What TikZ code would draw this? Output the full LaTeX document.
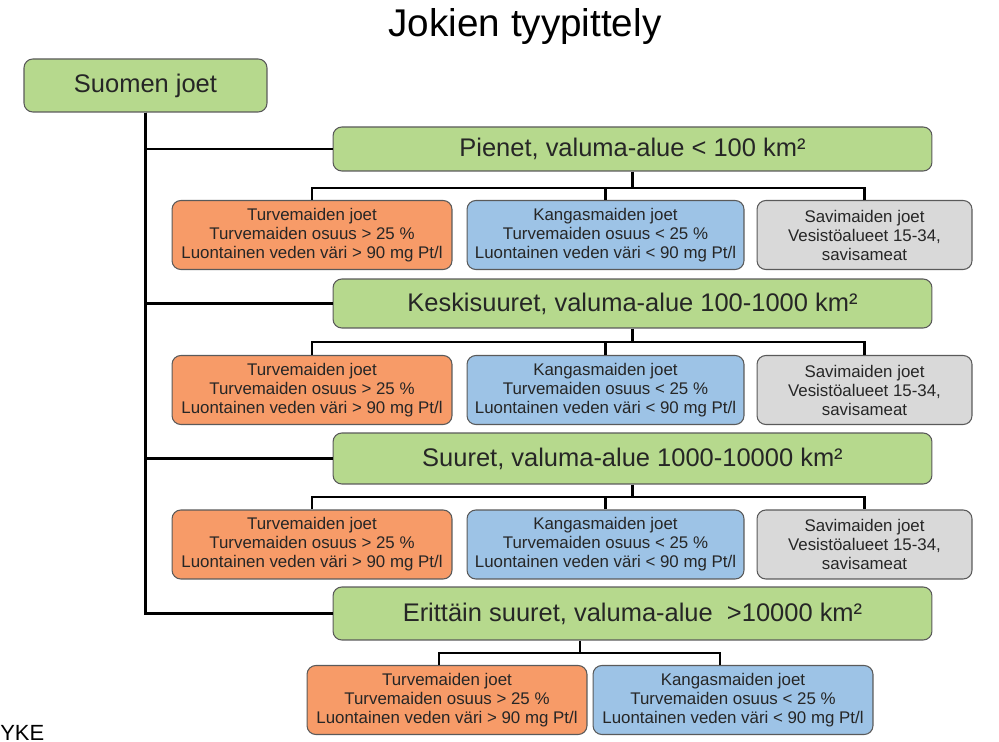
\documentclass[tikz,border=0pt]{standalone}
\usepackage{fontspec}
\setmainfont{Liberation Sans}
\usepackage{xcolor}
\usepackage{tikz}

\definecolor{vihrea}{HTML}{B6D98D}
\definecolor{oranssi}{HTML}{F79B68}
\definecolor{sininen}{HTML}{9DC3E6}
\definecolor{harmaa}{HTML}{D9D9D9}
\definecolor{reuna}{HTML}{5A5A5A}
\definecolor{teksti}{HTML}{262626}

\newcommand{\turveteksti}{Turvemaiden joet\\Turvemaiden osuus > 25 \%\\Luontainen veden väri > 90 mg Pt/l}
\newcommand{\kangasteksti}{Kangasmaiden joet\\Turvemaiden osuus < 25 \%\\Luontainen veden väri < 90 mg Pt/l}
\newcommand{\saviteksti}{Savimaiden joet\\Vesistöalueet 15-34,\\savisameat}

\tikzset{
    laatikko/.style={draw=reuna, line width=0.6pt, rounded corners=5pt, align=center, inner sep=1pt, text=teksti},
    paa/.style={laatikko, fill=vihrea, font=\fontsize{14.5}{17}\selectfont, minimum width=11.98cm},
    ala/.style={laatikko, minimum height=1.38cm, font=\fontsize{9.6}{10.8}\selectfont},
    turve/.style={ala, fill=oranssi, minimum width=5.6cm},
    kangas/.style={ala, fill=sininen, minimum width=5.54cm},
    savi/.style={ala, fill=harmaa, minimum width=4.3cm},
    runko/.style={line width=1.7pt},
    haara/.style={line width=1.4pt},
}

\begin{document}
\begin{tikzpicture}[x=0.02cm, y=-0.02cm]
    \useasboundingbox (0,0) rectangle (999,742);

    % Otsikko
    \node[anchor=base, font=\fontsize{22}{26}\selectfont] (otsikko) at (525,37) {Jokien tyypittely};

    % Juuri ja kokoluokat
    \node[laatikko, fill=vihrea, font=\fontsize{14.5}{17}\selectfont, minimum width=4.86cm, minimum height=1.06cm] (suomi) at (145.5,85.5) {Suomen joet};
    \node[paa, minimum height=0.88cm] (pienet) at (632.5,149) {Pienet, valuma-alue < 100 km²};
    \node[paa, minimum height=0.98cm] (keski) at (632.5,303.5) {Keskisuuret, valuma-alue 100-1000 km²};
    \node[paa, minimum height=1.02cm] (suuret) at (632.5,458.5) {Suuret, valuma-alue 1000-10000 km²};
    \node[paa, minimum height=1.06cm] (eritt) at (632.5,613.5) {Erittäin suuret, valuma-alue \ >10000 km²};

    % Rungon viivat
    \draw[runko] (suomi.south) |- (pienet.west);
    \draw[runko] (suomi.south) |- (keski.west);
    \draw[runko] (suomi.south) |- (suuret.west);
    \draw[runko] (suomi.south) |- (eritt.west);

    % Pienet
    \node[turve] (p1) at (312,235) {\turveteksti};
    \node[kangas] (p2) at (605.5,235) {\kangasteksti};
    \node[savi] (p3) at (864.5,235) {\saviteksti};
    \coordinate (pvayla) at (632.5,188);
    \draw[haara] (pienet.south) -- (pvayla);
    \draw[haara] (p1.north) |- (pvayla) -| (p3.north);
    \draw[haara] (p2.north) -- (p2.north |- pvayla);

    % Keskisuuret
    \node[turve] (k1) at (312,390) {\turveteksti};
    \node[kangas] (k2) at (605.5,390) {\kangasteksti};
    \node[savi] (k3) at (864.5,390) {\saviteksti};
    \coordinate (kvayla) at (632.5,342);
    \draw[haara] (keski.south) -- (kvayla);
    \draw[haara] (k1.north) |- (kvayla) -| (k3.north);
    \draw[haara] (k2.north) -- (k2.north |- kvayla);

    % Suuret
    \node[turve] (s1) at (312,544.5) {\turveteksti};
    \node[kangas] (s2) at (605.5,544.5) {\kangasteksti};
    \node[savi] (s3) at (864.5,544.5) {\saviteksti};
    \coordinate (svayla) at (632.5,497);
    \draw[haara] (suuret.south) -- (svayla);
    \draw[haara] (s1.north) |- (svayla) -| (s3.north);
    \draw[haara] (s2.north) -- (s2.north |- svayla);

    % Erittäin suuret
    \node[turve] (e1) at (447,700) {\turveteksti};
    \node[kangas, minimum width=5.6cm] (e2) at (733,700) {\kangasteksti};
    \coordinate (evayla) at (580,653);
    \draw[haara] (eritt.south -| evayla) -- (evayla);
    \draw[haara] ([xshift=-0.16cm]e1.north) |- (evayla) -| ([xshift=-0.26cm]e2.north);

    % Lähde
    \node[anchor=base west, inner sep=0pt, font=\fontsize{12.5}{15}\selectfont] (lahde) at (0,740) {YKE};
\end{tikzpicture}
\end{document}
